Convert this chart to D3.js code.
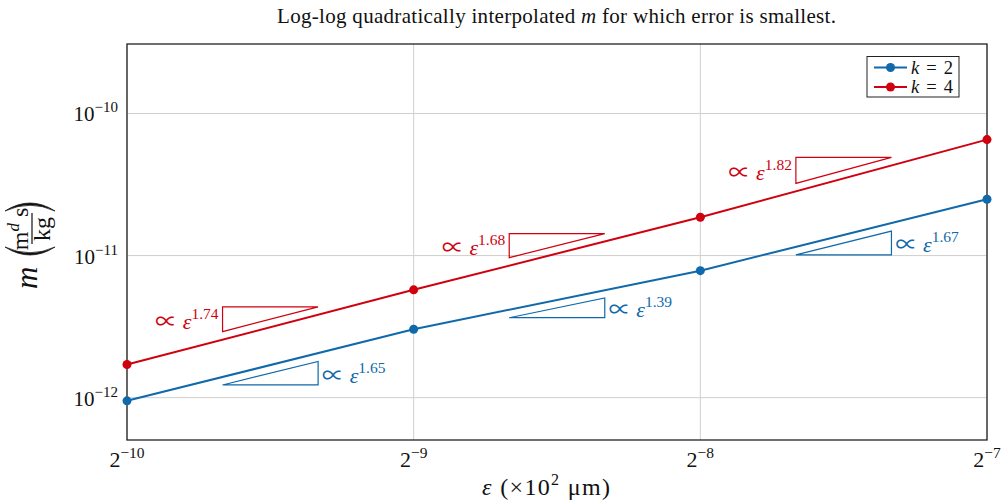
<!DOCTYPE html>
<html><head><meta charset="utf-8">
<script src="https://cdn.jsdelivr.net/npm/d3@7"></script>
<style>
body{margin:0;background:#fff;}
text{font-family:"Liberation Serif","Times New Roman",serif;}
</style></head>
<body><svg id="chart" width="1003" height="502"></svg>
<script>
// ---- data ----
const epsExp = [-10, -9, -8, -7];
const epsValues = epsExp.map(e => Math.pow(2, e));
const k2Values = [9.5e-13, 3.03e-12, 7.83e-12, 2.49e-11];
const k4Values = [1.71e-12, 5.74e-12, 1.86e-11, 6.55e-11];
const k2Slopes = [1.65, 1.39, 1.67];
const k4Slopes = [1.74, 1.68, 1.82];
const yTickExp = [-12, -11, -10];
const seriesNames = ["k = 2", "k = 4"];
const titleText = "Log-log quadratically interpolated m for which error is smallest.";

const BLUE = "#0f69aa", RED = "#d0000f";
const svg = d3.select("#chart");
const L = 127, R = 987, T = 44, B = 440;
const x = d3.scaleLog().base(2).domain([Math.pow(2,-10), Math.pow(2,-7)]).range([L, R]);
const y = d3.scaleLog().domain([Math.pow(10,-12.298), Math.pow(10,-9.511)]).range([B, T]);

// grid
const g = svg.append("g");
g.selectAll(".gx").data(epsValues).join("line")
  .attr("x1", d => x(d)).attr("x2", d => x(d)).attr("y1", T).attr("y2", B)
  .attr("stroke", "#cfcfcf").attr("stroke-width", 1);
g.selectAll(".gy").data(yTickExp).join("line")
  .attr("y1", d => y(Math.pow(10,d))).attr("y2", d => y(Math.pow(10,d))).attr("x1", L).attr("x2", R)
  .attr("stroke", "#cfcfcf").attr("stroke-width", 1);

// frame
svg.append("rect").attr("x", L).attr("y", T).attr("width", R-L).attr("height", B-T)
  .attr("fill", "none").attr("stroke", "#222").attr("stroke-width", 1.3);

// tick labels
const xt = svg.append("g");
epsExp.forEach((e, i) => {
  const t = xt.append("text").attr("x", x(epsValues[i])).attr("y", 467).attr("text-anchor", "middle")
    .attr("font-size", 22).attr("fill", "#111");
  t.append("tspan").text("2");
  t.append("tspan").attr("dy", -9).attr("font-size", 15.5).text("\u2212" + Math.abs(e));
});
yTickExp.forEach(e => {
  const t = xt.append("text").attr("x", 118).attr("y", y(Math.pow(10,e)) + 8).attr("text-anchor", "end")
    .attr("font-size", 21).attr("fill", "#111");
  t.append("tspan").text("10");
  t.append("tspan").attr("dy", -9).attr("font-size", 15).text("\u2212" + Math.abs(e));
});

// title
const tt = svg.append("text").attr("x", 556.5).attr("y", 23).attr("text-anchor", "middle")
  .attr("font-size", 21).attr("fill", "#111")
  .attr("textLength", 559).attr("lengthAdjust", "spacing");
const parts = titleText.split(" m ");
tt.append("tspan").text(parts[0] + " ");
tt.append("tspan").attr("font-style", "italic").text("m");
tt.append("tspan").text(" " + parts[1]);

// x label
const xl = svg.append("text").attr("x", 546).attr("y", 495).attr("text-anchor", "middle")
  .attr("font-size", 24).attr("fill", "#111")
  .attr("textLength", 128).attr("lengthAdjust", "spacing");
xl.append("tspan").attr("font-style", "italic").text("\u03b5");
xl.append("tspan").text(" (\u00d710");
xl.append("tspan").attr("dy", -10).attr("font-size", 16).text("2");
xl.append("tspan").attr("dy", 10).text(" \u03bcm)");

// y label
const yl = svg.append("g").attr("transform", "translate(40,242) rotate(-90)").attr("fill", "#111");
yl.append("text").attr("x", -47).attr("y", -3).attr("font-size", 31).attr("font-style", "italic").text("m");
function paren(x0, dir) {
  const top = -35, bot = 15, mid = (top + bot) / 2;
  const xm = x0 - dir * 16;
  return `M${x0},${top} Q${xm},${mid} ${x0},${bot} Q${xm + dir*4.5},${mid} ${x0},${top} Z`;
}
yl.append("path").attr("d", paren(-5, 1)).attr("fill", "#111").attr("stroke", "#111").attr("stroke-width", 0.7);
yl.append("path").attr("d", paren(31, -1)).attr("fill", "#111").attr("stroke", "#111").attr("stroke-width", 0.7);
const num = yl.append("text").attr("x", 13).attr("y", -12).attr("text-anchor", "middle").attr("font-size", 24);
num.append("tspan").text("m");
num.append("tspan").attr("dy", -9).attr("font-size", 17).attr("font-style", "italic").text("d");
num.append("tspan").attr("dy", 9).text(" s");
yl.append("line").attr("x1", -2).attr("x2", 29).attr("y1", -8).attr("y2", -8).attr("stroke", "#111").attr("stroke-width", 1.2);
yl.append("text").attr("x", 13).attr("y", 10).attr("text-anchor", "middle").attr("font-size", 24).text("kg");

// series
const series = [
  {name: seriesNames[0], vals: k2Values, slopes: k2Slopes, color: BLUE, below: true},
  {name: seriesNames[1], vals: k4Values, slopes: k4Slopes, color: RED, below: false}
];
const line = d3.line().x(d => x(d[0])).y(d => y(d[1]));
series.forEach(s => {
  const pts = epsValues.map((e, i) => [e, s.vals[i]]);
  svg.append("path").attr("d", line(pts)).attr("fill", "none").attr("stroke", s.color).attr("stroke-width", 2);
  svg.selectAll(null).data(pts).join("circle").attr("cx", d => x(d[0])).attr("cy", d => y(d[1]))
    .attr("r", 4.5).attr("fill", s.color);
  // slope triangles
  s.slopes.forEach((sl, i) => {
    const e1 = epsValues[i], e2 = epsValues[i+1];
    const xa = e1 * Math.pow(e2/e1, 1/3), xb = e1 * Math.pow(e2/e1, 2/3);
    const la = Math.log(s.vals[i]), lb = Math.log(s.vals[i+1]);
    const va = Math.exp(la + (lb - la) / 3);
    const vb = va * Math.pow(xb / xa, sl);
    const px1 = x(xa), px2 = x(xb);
    const off = s.below ? 8 : -8;
    const y1 = y(va) + off, y2 = y(vb) + off;
    let d;
    if (s.below) d = `M${px1},${y1} L${px2},${y1} L${px2},${y2} Z`;
    else d = `M${px1},${y1} L${px1},${y2} L${px2},${y2} Z`;
    svg.append("path").attr("d", d).attr("fill", "none").attr("stroke", s.color).attr("stroke-width", 1.2);
    const ym = (y1 + y2) / 2 + 9.5;
    const t = svg.append("text").attr("font-size", 22).attr("fill", s.color)
      .attr("x", s.below ? px2 + 4 : px1 - 4).attr("y", ym).attr("text-anchor", s.below ? "start" : "end");
    t.append("tspan").attr("font-family", "'Noto Sans CJK JP'").attr("font-size", 22).text("\u221d");
    t.append("tspan").text(" ");
    t.append("tspan").attr("font-style", "italic").text("\u03b5");
    t.append("tspan").attr("dy", -10).attr("font-size", 15.5).text(sl.toFixed(2));
  });
});

// legend
const lg = svg.append("g");
lg.append("rect").attr("x", 867).attr("y", 56.5).attr("width", 92).attr("height", 40.5)
  .attr("fill", "#fff").attr("stroke", "#222").attr("stroke-width", 1);
series.forEach((s, i) => {
  const yy = 67.5 + i * 19.5;
  lg.append("line").attr("x1", 874).attr("x2", 907).attr("y1", yy).attr("y2", yy).attr("stroke", s.color).attr("stroke-width", 2);
  lg.append("circle").attr("cx", 890.5).attr("cy", yy).attr("r", 4.5).attr("fill", s.color);
  const t = lg.append("text").attr("x", 911).attr("y", yy + 6).attr("font-size", 18.5).attr("fill", "#111")
    .attr("textLength", 42).attr("lengthAdjust", "spacing");
  const [k, rest] = s.name.split(" = ");
  t.append("tspan").attr("font-style", "italic").text(k);
  t.append("tspan").text(" = " + rest);
});
</script></body></html>
